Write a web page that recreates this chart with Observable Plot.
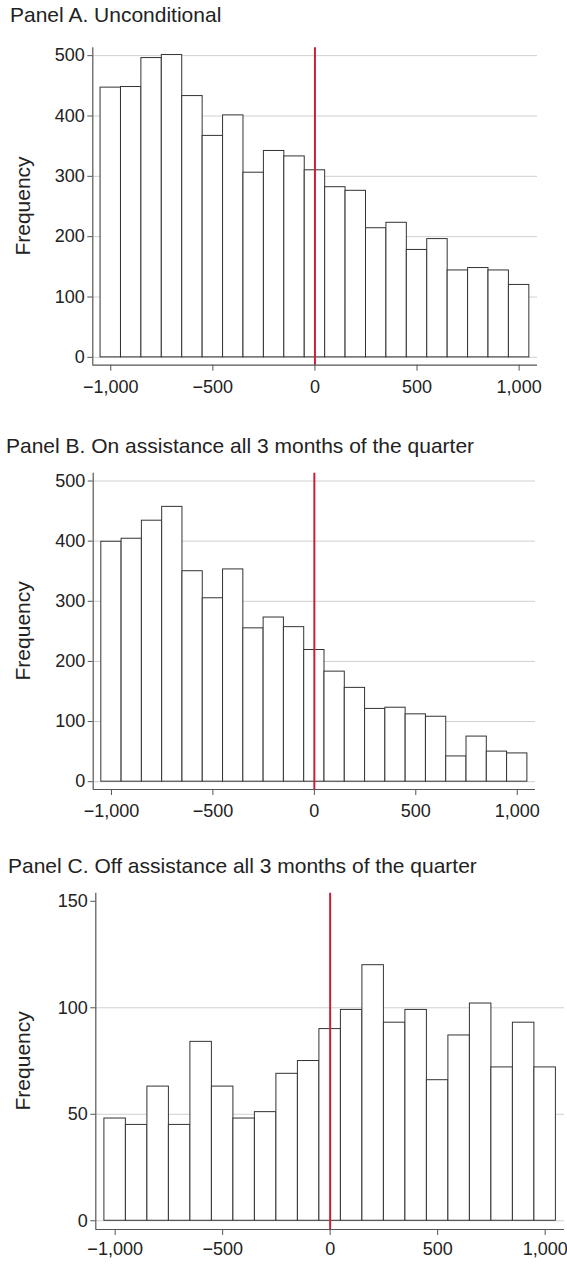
<!DOCTYPE html>
<html>
<head>
<meta charset="utf-8">
<script src="https://cdn.jsdelivr.net/npm/d3@7"></script>
<script src="https://cdn.jsdelivr.net/npm/@observablehq/plot@0.6"></script>
<style>
  html, body { margin: 0; padding: 0; background: #fff; overflow: hidden; }
  #page { position: relative; width: 567px; height: 1268px; overflow: hidden; background: #fff;
          font-family: "Liberation Sans", Arial, Helvetica, sans-serif; color: #222; }
  .ptitle { position: absolute; font-size: 21px; line-height: 21px; white-space: nowrap; color: #222; }
  .panel { position: absolute; left: 0; }
  .panel svg { overflow: hidden; }
</style>
</head>
<body>
<div id="page"></div>
<script>
// ---- Data ----
const binWidth = 100;
const binCenters = [-1000, -900, -800, -700, -600, -500, -400, -300, -200, -100, 0,
                    100, 200, 300, 400, 500, 600, 700, 800, 900, 1000];
const panelAValues = [447, 448, 496, 501, 433, 367, 401, 306, 342, 333, 310,
                      282, 276, 214, 223, 178, 196, 144, 148, 144, 120];
const panelBValues = [399, 404, 434, 457, 350, 305, 353, 255, 273, 257, 219,
                      183, 156, 121, 123, 112, 108, 42, 75, 50, 47];
const panelCValues = [48, 45, 63, 45, 84, 63, 48, 51, 69, 75, 90,
                      99, 120, 93, 99, 66, 87, 102, 72, 93, 72];
const panelTitles = [
  "Panel A. Unconditional",
  "Panel B. On assistance all 3 months of the quarter",
  "Panel C. Off assistance all 3 months of the quarter"
];
const yLabel = "Frequency";
const xTicks = [-1000, -500, 0, 500, 1000];
const yTicksAB = [0, 100, 200, 300, 400, 500];
const yTicksC = [0, 50, 100, 150];
const gridC = [0, 50, 100];
const cutoff = [0];

// ---- Layout (styles only) ----
const layouts = [
  {values: panelAValues, title: panelTitles[0], titleTop: 3.9, titleLeft: 10,
   svgTop: 30, height: 380, mTop: 17.3, mBottom: 45.3, mLeft: 92.3, mRight: 30,
   xDomain: [-1088, 1090], yDomain: [-13, 513], yTicks: yTicksAB, grid: yTicksAB, xPad: 9},
  {values: panelBValues, title: panelTitles[1], titleTop: 435.2, titleLeft: 6,
   svgTop: 460, height: 380, mTop: 12.7, mBottom: 51, mLeft: 92.7, mRight: 32,
   xDomain: [-1090, 1090], yDomain: [-13, 513], yTicks: yTicksAB, grid: yTicksAB, xPad: 9},
  {values: panelCValues, title: panelTitles[2], titleTop: 854.9, titleLeft: 8,
   svgTop: 880, height: 388, mTop: 12.7, mBottom: 39, mLeft: 95.3, mRight: 3,
   xDomain: [-1090, 1090], yDomain: [-4.1, 153.8], yTicks: yTicksC, grid: gridC, xPad: 6.7}
];

const page = document.getElementById("page");
const fmt = d3.format(",");

for (const L of layouts) {
  const t = document.createElement("div");
  t.className = "ptitle";
  t.style.top = L.titleTop + "px";
  t.style.left = L.titleLeft + "px";
  t.textContent = L.title;
  page.appendChild(t);

  const data = binCenters.map((c, i) => ({
    x1: c - binWidth / 2, x2: c + binWidth / 2, y1: 0, y2: L.values[i]
  }));

  const svg = Plot.plot({
    width: 567,
    height: L.height,
    marginTop: L.mTop,
    marginBottom: L.mBottom,
    marginLeft: L.mLeft,
    marginRight: L.mRight,
    x: {domain: L.xDomain},
    y: {domain: L.yDomain},
    style: {
      fontFamily: "'Liberation Sans', Arial, Helvetica, sans-serif",
      fontSize: "18px",
      color: "#222",
      background: "white",
      overflow: "hidden"
    },
    marks: [
      Plot.gridY(L.grid, {stroke: "#d0d0d0", strokeOpacity: 1, strokeWidth: 1}),
      Plot.rect(data, {x1: "x1", x2: "x2", y1: "y1", y2: "y2",
                       fill: "white", stroke: "#333", strokeWidth: 1}),
      Plot.ruleX(cutoff, {stroke: "#c8203c", strokeWidth: 2}),
      Plot.ruleX([L.xDomain[0]], {stroke: "#555", strokeWidth: 1.2}),
      Plot.ruleY([L.yDomain[0]], {stroke: "#555", strokeWidth: 1.2}),
      Plot.axisY(L.yTicks, {tickSize: 5, tickPadding: 3, label: null, fontSize: 18,
                            stroke: "#555", fill: "#222"}),
      Plot.axisX(xTicks, {tickSize: 6, tickPadding: L.xPad, label: null, fontSize: 18,
                          tickFormat: fmt, stroke: "#555", fill: "#222"})
    ]
  });

  const centerY = (L.mTop + (L.height - L.mBottom)) / 2;
  d3.select(svg).append("text")
    .attr("transform", `translate(29.5,${centerY}) rotate(-90)`)
    .attr("text-anchor", "middle")
    .attr("font-size", 21)
    .attr("fill", "#222")
    .text(yLabel);

  const wrap = document.createElement("div");
  wrap.className = "panel";
  wrap.style.top = L.svgTop + "px";
  wrap.appendChild(svg);
  page.appendChild(wrap);
}
</script>
</body>
</html>
